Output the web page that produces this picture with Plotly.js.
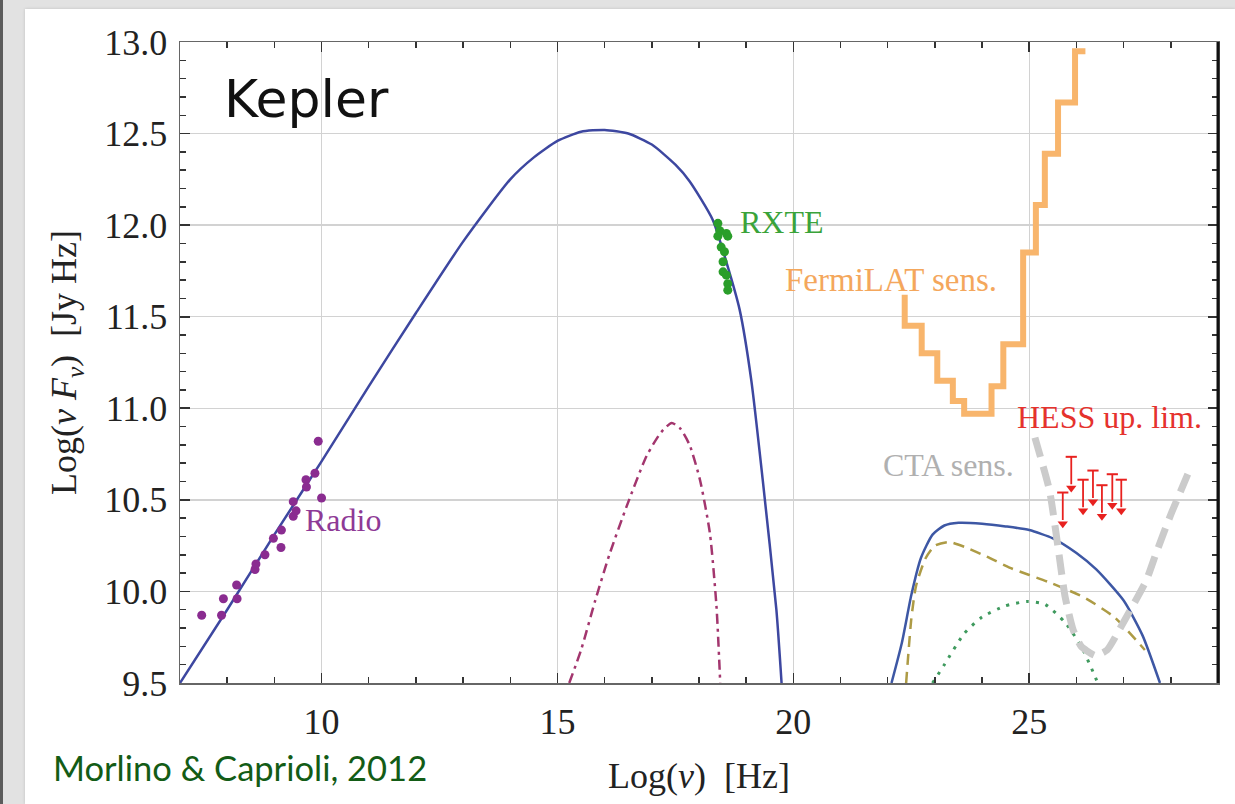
<!DOCTYPE html>
<html>
<head>
<meta charset="utf-8">
<script src="https://cdn.plot.ly/plotly-3.0.1.min.js"></script>
<style>
  html, body { margin: 0; padding: 0; }
  body {
    width: 1235px; height: 804px; overflow: hidden;
    background: #e2e2e2;
    position: relative;
  }
  #edge { position: absolute; left: 0; top: 0; width: 3px; height: 804px; background: #5c5c5c; }
  #chart {
    position: absolute; left: 25px; top: 9px; width: 1210px; height: 795px;
    background: #ffffff; box-shadow: 0 0 3px rgba(0,0,0,0.15);
  }
</style>
</head>
<body>
<div id="edge"></div>
<div id="chart"></div>
<script>
// Kepler SNR broadband spectral energy distribution, log(nu F_nu) vs log(nu)

// Synchrotron model (solid blue, low-frequency hump)
const syncX = [7.0, 8.0, 9.0, 10.0, 11.0, 12.0, 13.0, 14.0, 14.5, 15.0, 15.5, 16.0, 16.5, 17.0, 17.5, 17.8, 18.29, 18.59, 18.86, 19.11, 19.35, 19.64, 19.75];
const syncY = [9.50, 9.90, 10.31, 10.71, 11.12, 11.52, 11.91, 12.25, 12.37, 12.46, 12.51, 12.52, 12.50, 12.44, 12.33, 12.24, 12.03, 11.79, 11.54, 11.15, 10.61, 9.90, 9.50];

// Thermal component (purple dash-dot)
const thermX = [15.25, 15.5, 15.8, 16.1, 16.46, 16.89, 17.2, 17.42, 17.6, 17.8, 18.02, 18.23, 18.37, 18.45];
const thermY = [9.50, 9.68, 9.95, 10.20, 10.46, 10.74, 10.87, 10.92, 10.89, 10.80, 10.61, 10.32, 9.92, 9.50];

// Total gamma-ray model (solid blue, high-energy hump)
const gammaX = [22.08, 22.3, 22.5, 22.7, 22.95, 23.2, 23.5, 24.0, 24.5, 25.0, 25.5, 26.0, 26.42, 27.0, 27.4, 27.77];
const gammaY = [9.50, 9.72, 9.98, 10.18, 10.31, 10.36, 10.375, 10.37, 10.355, 10.335, 10.29, 10.21, 10.12, 9.95, 9.76, 9.50];

// Inverse Compton component (olive dashed)
const icX = [22.39, 22.5, 22.6, 22.8, 23.0, 23.3, 23.66, 24.1, 24.58, 25.0, 25.42, 26.14, 26.8, 27.45];
const icY = [9.50, 9.85, 10.03, 10.18, 10.25, 10.27, 10.24, 10.19, 10.13, 10.09, 10.05, 9.97, 9.86, 9.68];

// Pion-decay component (green dotted)
const pionX = [22.95, 23.2, 23.62, 24.0, 24.48, 24.95, 25.33, 25.76, 26.1, 26.37, 26.45];
const pionY = [9.50, 9.60, 9.77, 9.86, 9.92, 9.945, 9.93, 9.83, 9.70, 9.55, 9.50];

// CTA sensitivity (thick grey dashed)
const ctaX = [25.12, 25.43, 25.61, 25.76, 25.93, 26.1, 26.4, 26.65, 26.95, 27.48, 27.69, 28.0, 28.36];
const ctaY = [10.84, 10.55, 10.24, 9.97, 9.79, 9.70, 9.65, 9.68, 9.81, 10.06, 10.21, 10.42, 10.64];

// Fermi-LAT sensitivity, binned (left bin edges + final right edge)
const fermiX = [22.36, 22.36, 22.72, 23.05, 23.38, 23.62, 24.20, 24.45, 24.87, 25.14, 25.33, 25.61, 25.97, 26.19];
const fermiY = [11.62, 11.45, 11.30, 11.15, 11.04, 10.97, 11.12, 11.35, 11.85, 12.11, 12.39, 12.67, 12.95, 12.95];

// Radio flux measurements
const radioX = [7.46, 7.88, 7.92, 8.20, 8.21, 8.59, 8.61, 8.80, 8.98, 9.14, 9.15, 9.40, 9.40, 9.46, 9.67, 9.68, 9.86, 9.93, 10.00];
const radioY = [9.87, 9.87, 9.96, 10.035, 9.96, 10.12, 10.15, 10.20, 10.29, 10.24, 10.335, 10.41, 10.49, 10.44, 10.61, 10.57, 10.645, 10.82, 10.51];

// RXTE X-ray measurements
const rxteX = [18.40, 18.44, 18.40, 18.58, 18.61, 18.47, 18.54, 18.51, 18.51, 18.58, 18.61, 18.61];
const rxteY = [12.01, 11.97, 11.94, 11.955, 11.94, 11.88, 11.855, 11.80, 11.745, 11.727, 11.68, 11.645];

// HESS upper limits
const hessX = [25.71, 25.89, 26.14, 26.35, 26.54, 26.76, 26.95];
const hessY = [10.54, 10.735, 10.61, 10.66, 10.58, 10.64, 10.61];
const hessArrowLen = 0.17;

const serif = 'Liberation Serif, Times New Roman, serif';
const hessRed = '#e8211f';

// Arrow shafts and heads for the upper limits
const shaftX = [], shaftY = [], headY = [];
hessX.forEach((hx, i) => {
  shaftX.push(hx, hx, null);
  shaftY.push(hessY[i], hessY[i] - hessArrowLen + 0.02, null);
  headY.push(hessY[i] - hessArrowLen);
});

const traces = [
  { x: syncX, y: syncY, mode: 'lines', line: { color: '#3d47a0', width: 2.5, shape: 'spline', smoothing: 0.6 }, hoverinfo: 'skip' },
  { x: thermX, y: thermY, mode: 'lines', line: { color: '#a3366e', width: 2.5, dash: '10px,5px,3px,5px', shape: 'spline', smoothing: 0.6 }, hoverinfo: 'skip' },
  { x: gammaX, y: gammaY, mode: 'lines', line: { color: '#3d57a4', width: 2.5, shape: 'spline', smoothing: 0.6 }, hoverinfo: 'skip' },
  { x: icX, y: icY, mode: 'lines', line: { color: '#ad9b45', width: 2.5, dash: '11px,7px', shape: 'spline', smoothing: 0.6 }, hoverinfo: 'skip' },
  { x: pionX, y: pionY, mode: 'lines', line: { color: '#3f9a5e', width: 3, dash: '3px,7px', shape: 'spline', smoothing: 0.6 }, hoverinfo: 'skip' },
  { x: ctaX, y: ctaY, mode: 'lines', line: { color: '#cbcbcb', width: 7, dash: '20px,10px', shape: 'spline', smoothing: 0.5 }, hoverinfo: 'skip' },
  { x: fermiX, y: fermiY, mode: 'lines', line: { color: '#f8b56c', width: 6, shape: 'hv' }, hoverinfo: 'skip' },
  { x: shaftX, y: shaftY, mode: 'lines', line: { color: hessRed, width: 1.8 }, hoverinfo: 'skip' },
  { x: hessX, y: hessY, mode: 'markers', marker: { symbol: 'line-ew', size: 8, line: { color: hessRed, width: 2 } }, hoverinfo: 'skip' },
  { x: hessX, y: headY, mode: 'markers', marker: { symbol: 'triangle-down', size: 9, color: hessRed }, hoverinfo: 'skip' },
  { x: radioX, y: radioY, mode: 'markers', marker: { color: '#8a2c90', size: 9 }, hoverinfo: 'skip' },
  { x: rxteX, y: rxteY, mode: 'markers', marker: { color: '#2a9e2a', size: 9 }, hoverinfo: 'skip' }
];

function label(text, x, y, color, size, family) {
  return { text: text, x: x, y: y, xref: 'x', yref: 'y', xanchor: 'left', yanchor: 'middle',
           showarrow: false, font: { family: family || serif, size: size || 32, color: color } };
}
const annotations = [
  label('Kepler', 7.88, 12.69, '#111111', 52, 'DejaVu Sans, sans-serif'),
  label('Radio', 9.60, 10.39, '#8e3a96'),
  label('RXTE', 18.83, 12.016, '#3aa33a'),
  label('FermiLAT sens.', 19.79, 11.70, '#f4a75c', 33),
  label('HESS up. lim.', 24.70, 10.95, '#e5322d'),
  label('CTA sens.', 21.86, 10.69, '#b0b0b0'),
  {
    text: 'Morlino & Caprioli, 2012', xref: 'paper', yref: 'paper', x: -0.124, y: -0.132,
    xanchor: 'left', yanchor: 'middle', showarrow: false,
    font: { family: 'Lato, sans-serif', size: 34.5, color: '#135c16' }
  }
];

const axisCommon = {
  tickmode: 'linear',
  ticks: 'inside', ticklen: 10, tickwidth: 1.6, tickcolor: '#333333',
  showline: true, linecolor: '#666666', linewidth: 1.5, mirror: 'allticks',
  showgrid: true, gridcolor: '#d2d2d2', gridwidth: 1.3, zeroline: false,
  tickfont: { family: serif, size: 36, color: '#222222' }
};

const layout = {
  width: 1210, height: 795,
  margin: { l: 155, r: 16.5, t: 32.7, b: 121 },
  paper_bgcolor: '#ffffff', plot_bgcolor: '#ffffff',
  showlegend: false,
  xaxis: Object.assign({}, axisCommon, {
    range: [7, 29], tick0: 10, dtick: 5,
    minor: { tick0: 7, dtick: 1, ticks: 'inside', ticklen: 6, tickwidth: 1.5, tickcolor: '#333333', showgrid: false },
    ticklabelstandoff: 6,
    title: { text: 'Log(<i>ν</i>)\u00A0\u00A0[Hz]', font: { family: serif, size: 36, color: '#222222' }, standoff: 22 }
  }),
  yaxis: Object.assign({}, axisCommon, {
    range: [9.5, 13], tick0: 9.5, dtick: 0.5, tickformat: '.1f',
    minor: { tick0: 9.5, dtick: 0.1, ticks: 'inside', ticklen: 6, tickwidth: 1.5, tickcolor: '#333333', showgrid: false },
    ticklabelstandoff: 4,
    title: { text: 'Log(<i>ν F</i><sub><i>ν</i></sub>)\u00A0\u00A0[Jy Hz]', font: { family: serif, size: 36, color: '#222222' }, standoff: 16 }
  }),
  shapes: [
    { type: 'line', xref: 'paper', yref: 'paper', x0: 1, x1: 1, y0: 0, y1: 1, line: { color: '#111111', width: 3 } }
  ],
  annotations: annotations
};

Plotly.newPlot('chart', traces, layout, { displayModeBar: false, staticPlot: true });
</script>
</body>
</html>
